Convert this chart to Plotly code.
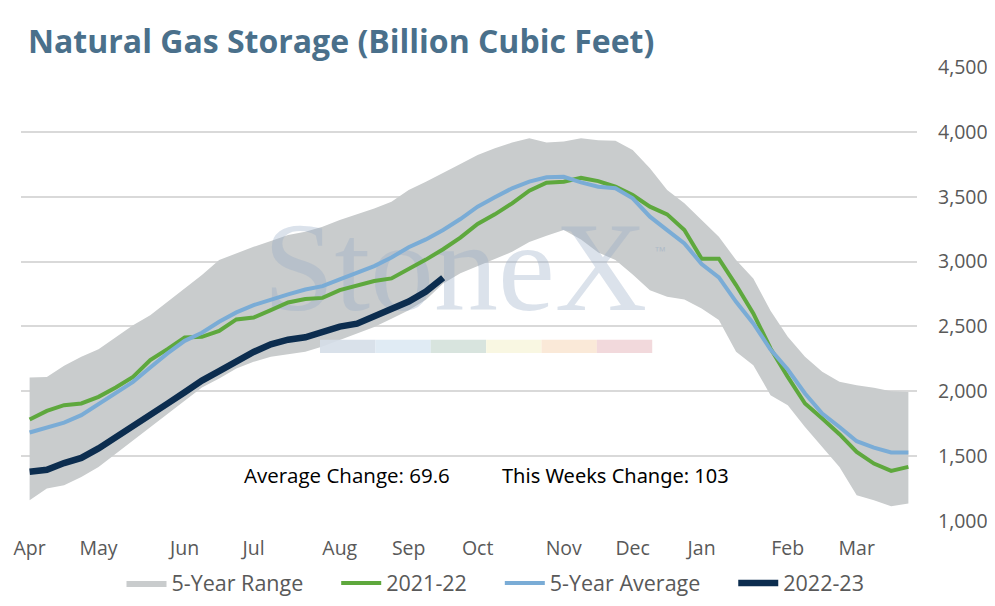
import plotly.graph_objects as go

# weekly storage, Apr -> Mar (week 1 = first week of April)
weeks = list(range(1, 53))
month_ticks = [1, 5, 10, 14, 19, 23, 27, 32, 36, 40, 45, 49]
month_labels = ['Apr', 'May', 'Jun', 'Jul', 'Aug', 'Sep', 'Oct', 'Nov', 'Dec', 'Jan', 'Feb', 'Mar']

range_low = [1160, 1250, 1276, 1340, 1417, 1520, 1623, 1725, 1823, 1931,
             2029, 2099, 2176, 2227, 2266, 2286, 2304, 2345, 2395, 2440,
             2495, 2560, 2625, 2705, 2830, 2910, 2965, 3020, 3075, 3150,
             3200, 3243, 3170, 3070, 3012, 2900, 2778, 2728, 2708, 2639,
             2549, 2304, 2201, 1970, 1893, 1725, 1571, 1417, 1198, 1160,
             1113, 1134]
range_high = [2106, 2111, 2196, 2266, 2325, 2420, 2510, 2587, 2690, 2793,
              2896, 3012, 3063, 3114, 3158, 3204, 3230, 3268, 3320, 3364,
              3410, 3461, 3552, 3616, 3681, 3752, 3822, 3873, 3917, 3950,
              3917, 3925, 3950, 3935, 3932, 3860, 3719, 3552, 3449, 3320,
              3191, 3012, 2870, 2620, 2420, 2266, 2150, 2073, 2047, 2027,
              2001, 1995]
avg_5yr = [1682, 1721, 1759, 1816, 1900, 1988, 2073, 2184, 2292, 2389,
           2451, 2536, 2608, 2664, 2708, 2747, 2785, 2811, 2863, 2914,
           2965, 3032, 3110, 3171, 3243, 3328, 3423, 3495, 3565, 3616,
           3650, 3654, 3611, 3577, 3565, 3488, 3346, 3243, 3140, 2981,
           2878, 2690, 2523, 2322, 2168, 1983, 1829, 1725, 1615, 1566,
           1528, 1528]
y2021_22 = [1782, 1849, 1893, 1906, 1957, 2029, 2111, 2240, 2325, 2415,
            2420, 2466, 2554, 2569, 2626, 2685, 2711, 2720, 2780, 2819,
            2850, 2870, 2940, 3015, 3095, 3185, 3290, 3364, 3449, 3546,
            3608, 3616, 3645, 3620, 3577, 3513, 3423, 3364, 3243, 3022,
            3022, 2819, 2600, 2330, 2111, 1906, 1790, 1669, 1532, 1443,
            1386, 1417]
y2022_23 = [1380, 1395, 1447, 1486, 1560, 1643, 1735, 1820, 1905, 1993,
            2082, 2155, 2236, 2303, 2362, 2398, 2416, 2454, 2499, 2521,
            2577, 2635, 2692, 2769, 2876]

avg_change = 'Average Change: 69.6'
week_change = 'This Weeks Change: 103'

FONT = 'Open Sans'
GREY_TXT = '#595959'
PAD = '\u00a0' * 5  # extra room between legend entries

# page body has an 8px margin, so the figure is drawn 8px smaller
W, H = 987, 598

fig = go.Figure()
fig.add_trace(go.Scatter(x=weeks, y=range_low, mode='lines', line=dict(width=0),
                         showlegend=False, hoverinfo='skip'))
fig.add_trace(go.Scatter(x=weeks, y=range_high, mode='lines', line=dict(width=0),
                         fill='tonexty', fillcolor='#C9CCCD', name='5-Year Range' + PAD))
# watermark sits over the band but under the lines
fig.add_trace(go.Scatter(x=[25.7], y=[2870], mode='text', text=['StoneX'],
                         textfont=dict(family='Liberation Serif', size=128,
                                       color='rgba(150,170,195,0.34)'),
                         showlegend=False, hoverinfo='skip'))
fig.add_trace(go.Scatter(x=weeks, y=y2021_22, mode='lines', name='2021-22' + PAD,
                         line=dict(color='#5EA83D', width=4)))
fig.add_trace(go.Scatter(x=weeks, y=avg_5yr, mode='lines', name='5-Year Average' + PAD,
                         line=dict(color='#7AACD6', width=4)))
fig.add_trace(go.Scatter(x=weeks[:len(y2022_23)], y=y2022_23, mode='lines', name='2022-23',
                         line=dict(color='#0C2D4F', width=6.5)))

# coloured strip under the watermark
strip_colors = ['#D5DEE8', '#DDE9F3', '#D4E1DA', '#F8F6DF', '#F9E7D4', '#F1D5D8']
x0, w = 0.3337, 0.0618
for i, c in enumerate(strip_colors):
    fig.add_shape(type='rect', xref='paper', yref='paper',
                  x0=x0 + i * w, x1=x0 + (i + 1) * w, y0=0.370, y1=0.399,
                  fillcolor=c, line=dict(width=0), layer='above', opacity=0.9)

fig.add_annotation(text='™', xref='paper', yref='paper', x=0.722, y=0.595,
                   showarrow=False, font=dict(family='Liberation Sans', size=12,
                                              color='rgba(150,170,195,0.5)'))
fig.add_annotation(text=avg_change, xref='paper', yref='paper', x=0.364, y=0.066,
                   showarrow=False, font=dict(family=FONT, size=20.5, color='black'))
fig.add_annotation(text=week_change, xref='paper', yref='paper', x=0.663, y=0.066,
                   showarrow=False, font=dict(family='Noto Sans', size=20, color='black'))

fig.update_layout(
    width=W, height=H,
    margin=dict(l=13, r=78, t=59, b=85, autoexpand=False),
    plot_bgcolor='white', paper_bgcolor='white',
    title=dict(text='<b>Natural Gas Storage (Billion Cubic Feet)</b>',
               x=20 / W, xanchor='left', xref='container',
               y=1 - 34 / H, yanchor='middle', yref='container',
               font=dict(family=FONT, size=32, color='#4A708B')),
    legend=dict(orientation='h', x=487.5 / W, xanchor='center', xref='container',
                y=1 - 575 / H, yanchor='middle', yref='container',
                font=dict(family=FONT, size=21.5, color=GREY_TXT),
                itemwidth=40, traceorder='normal'),
    showlegend=True,
)
fig.update_xaxes(range=[0.5, 52.5], tickvals=month_ticks, ticktext=month_labels,
                 showgrid=False, showline=False, zeroline=False, ticks='',
                 tickfont=dict(family=FONT, size=19.5, color=GREY_TXT),
                 ticklabelstandoff=13, automargin=False)
fig.update_yaxes(side='right', range=[1000, 4500], dtick=500, tickformat=',',
                 showgrid=True, gridcolor='#D9D9D9', gridwidth=1.5,
                 showline=False, zeroline=False, ticks='',
                 tickfont=dict(family=FONT, size=19.5, color=GREY_TXT),
                 ticklabelstandoff=20, automargin=False)

fig.write_html("out.html")
